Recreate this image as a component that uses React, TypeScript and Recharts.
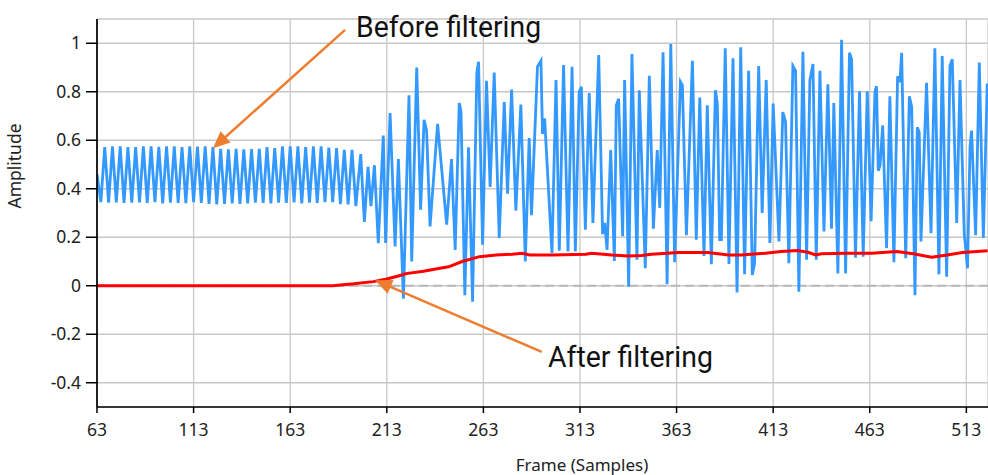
import React from 'react';
import { LineChart, Line, XAxis, YAxis, CartesianGrid, ReferenceLine, ReferenceDot } from 'recharts';

// Blue series: signal before filtering (frame, amplitude)
const blueFrames = [
  63, 65, 67, 69, 71, 73, 75, 77, 79, 81,
  83, 85, 87, 89, 91, 93, 95, 97, 99, 101,
  103, 105, 107, 109, 111, 113, 115, 117, 119, 121,
  123, 125, 127, 129, 131, 133, 135, 137, 139, 141,
  143, 145, 147, 149, 151, 153, 155, 157, 159, 161,
  163, 165, 167, 169, 171, 173, 175, 177, 179, 181,
  183, 185, 187, 189, 191, 193, 195, 197, 199.5, 201.4,
  203.3, 204.8, 206.6, 208.6, 211.2, 212.4, 214.7, 217.3, 219, 221.6,
  224.5, 225.9, 228.5, 230.5, 232.3, 233.6, 235.4, 239.3, 244, 246.5,
  248.4, 250.5, 251.4, 253.4, 255.3, 257.4, 259.6, 260.5, 262.6, 264.6,
  266.5, 268.6, 271.2, 273.8, 275.5, 277.6, 279.8, 282.4, 284.7, 286.7,
  287.9, 291, 292.8, 293.6, 294.7, 298.5, 300.6, 302.3, 304.5, 306.8,
  308.9, 310.6, 312.6, 313.7, 315.8, 317.8, 319.7, 322.7, 324.7, 325.8,
  327, 328.9, 330.8, 331.8, 333, 335.1, 336.1, 338.2, 339.9, 342.5,
  343.7, 346.8, 348.9, 351, 353, 354.3, 356, 358.1, 360, 362,
  365, 366, 368.1, 371.2, 373.2, 375, 377.2, 378.9, 381, 383.1,
  384.1, 385.3, 386.2, 388.2, 390.1, 392.2, 394.3, 396.2, 398.2, 400.3,
  402.2, 403.4, 405.5, 407.3, 409.4, 411.3, 413, 416, 418, 419.4,
  421.1, 423.2, 424.6, 426.3, 428.4, 430.3, 432, 433.6, 435.3, 437.2,
  439.3, 441.3, 443.2, 444.4, 446.5, 448.4, 450.5, 452.5, 453.6, 455.6,
  457.7, 459.6, 461.7, 463.7, 465.7, 466.5, 467.4, 468.3, 469.7, 471.7,
  473.4, 475.5, 477.4, 478.6, 479.5, 481.6, 483.5, 484.7, 486.4, 487.6,
  488.6, 489.5, 492.4, 494.7, 496.7, 498.8, 500.5, 502.8, 504.5, 505.7,
  508, 509.7, 511.9, 513.6, 514.9, 515.7, 517.8, 519.7, 521.8, 523.8,
];
const blueAmp = [
  0.46, 0.345, 0.572, 0.343, 0.575, 0.344, 0.575, 0.342, 0.572, 0.343,
  0.572, 0.344, 0.575, 0.342, 0.575, 0.345, 0.573, 0.34, 0.575, 0.343,
  0.575, 0.342, 0.572, 0.341, 0.575, 0.345, 0.574, 0.342, 0.575, 0.338,
  0.572, 0.335, 0.565, 0.338, 0.562, 0.34, 0.565, 0.338, 0.562, 0.34,
  0.563, 0.343, 0.565, 0.342, 0.572, 0.34, 0.568, 0.343, 0.575, 0.342,
  0.575, 0.344, 0.575, 0.34, 0.572, 0.343, 0.575, 0.342, 0.575, 0.345,
  0.57, 0.345, 0.568, 0.336, 0.56, 0.335, 0.56, 0.328, 0.543, 0.263,
  0.49, 0.328, 0.497, 0.176, 0.619, 0.176, 0.712, 0.162, 0.522, -0.053,
  0.785, 0.1, 0.9, 0.314, 0.684, 0.64, 0.245, 0.668, 0.252, 0.522,
  0.148, 0.753, 0.72, -0.039, 0.571, -0.066, 0.878, 0.924, 0.169, 0.845,
  0.407, 0.879, 0.197, 0.758, 0.38, 0.809, 0.31, 0.747, 0.1, 0.609,
  0.291, 0.903, 0.928, 0.626, 0.69, 0.135, 0.848, 0.144, 0.91, 0.141,
  0.903, 0.141, 0.8, 0.82, 0.231, 0.795, 0.259, 0.951, 0.213, 0.259,
  0.148, 0.56, 0.102, 0.744, 0.771, 0.204, 0.848, -0.004, 0.956, 0.107,
  0.806, 0.072, 0.866, 0.235, 0.56, 0.321, 0.963, 0.006, 0.997, 0.097,
  0.841, 0.827, 0.208, 0.928, 0.19, 0.776, 0.123, 0.744, 0.089, 0.806,
  0.751, 0.19, 0.19, 0.979, 0.09, 0.938, -0.028, 0.983, 0.048, 0.886,
  0.044, 0.093, 0.906, 0.3, 0.848, 0.176, 0.751, 0.183, 0.716, 0.675,
  0.093, 0.906, 0.886, -0.025, 0.965, 0.107, 0.848, 0.914, 0.107, 0.886,
  0.224, 0.831, 0.235, 0.753, 0.051, 1.014, 0.051, 0.961, 0.934, 0.116,
  0.802, 0.12, 0.802, 0.266, 0.8, 0.823, 0.474, 0.495, 0.661, 0.155,
  0.781, 0.097, 0.864, 0.84, 0.961, 0.114, 0.781, 0.737, -0.039, 0.654,
  0.633, 0.183, 0.837, 0.217, 0.979, 0.047, 0.947, 0.037, 0.906, 0.934,
  0.259, 0.848, 0.217, 0.072, 0.573, 0.64, 0.208, 0.92, 0.197, 0.834,
];

// Red series: signal after filtering
const redFrames = [
  63, 185, 189, 196, 206, 213, 219, 223, 232, 240.5,
  245, 252, 261, 269.5, 278, 283, 287, 299, 316, 319,
  329.5, 338, 345, 350, 364, 379, 390, 396.5, 409, 417,
  425.5, 431, 435, 438, 451, 464, 477, 485.5, 495, 503,
  511, 524,
];
const redAmp = [
  0, 0, 0.003, 0.008, 0.017, 0.028, 0.04, 0.05, 0.06, 0.072,
  0.078, 0.1, 0.12, 0.127, 0.13, 0.134, 0.127, 0.127, 0.13, 0.134,
  0.127, 0.123, 0.125, 0.13, 0.137, 0.137, 0.127, 0.127, 0.134, 0.141,
  0.145, 0.138, 0.127, 0.132, 0.134, 0.134, 0.141, 0.132, 0.118, 0.127,
  0.137, 0.144,
];

const xTicks = [63, 113, 163, 213, 263, 313, 363, 413, 463, 513];
const yTicks = [-0.4, -0.2, 0, 0.2, 0.4, 0.6, 0.8, 1];
const xDomain = [63, 524.2];
const yDomain = [-0.5, 1.1];

// Annotations (in data coordinates)
const beforeLabel = { text: 'Before filtering', x: 197.1, y: 1.024 };
const afterLabel = { text: 'After filtering', x: 296.4, y: -0.335 };
const beforeArrow = [{ x: 191.4, y: 1.055 }, { x: 123, y: 0.567 }];
const afterArrow = [{ x: 293.2, y: -0.273 }, { x: 206.9, y: 0.023 }];

const blueData = blueFrames.map((x, i) => ({ x, y: blueAmp[i] }));
const redData = redFrames.map((x, i) => ({ x, y: redAmp[i] }));

const ORANGE = '#ed7d31';
const FONT = "'Noto Sans', 'Open Sans', sans-serif";

const ArrowShape = (props: any) => {
  const { x1, y1, x2, y2 } = props;
  const dx = x2 - x1;
  const dy = y2 - y1;
  const len = Math.hypot(dx, dy) || 1;
  const ux = dx / len;
  const uy = dy / len;
  const hl = 17;
  const hw = 7.5;
  const bx = x2 - ux * hl;
  const by = y2 - uy * hl;
  const px = -uy;
  const py = ux;
  return (
    <g>
      <line x1={x1} y1={y1} x2={bx + ux * 2} y2={by + uy * 2} stroke={ORANGE} strokeWidth={2.5} />
      <polygon
        points={`${x2},${y2} ${bx + px * hw},${by + py * hw} ${bx - px * hw},${by - py * hw}`}
        fill={ORANGE}
      />
    </g>
  );
};

const makeTextShape = (text: string, len: number) => (props: any) => (
  <text
    x={props.cx}
    y={props.cy}
    fontFamily="Roboto, sans-serif"
    fontSize={30}
    fill="#111"
    textLength={len}
    lengthAdjust="spacingAndGlyphs"
  >
    {text}
  </text>
);

const fmtY = (v: number) => String(Math.round(v * 10) / 10);

export default function App() {
  return (
    <div style={{ position: 'fixed', left: 0, top: 0, width: 988, height: 475, overflow: 'hidden', background: '#fff' }}>
      <LineChart width={988} height={475} margin={{ top: 19, right: 0, bottom: 38, left: 0 }}>
        <CartesianGrid stroke="#c8c8c8" strokeWidth={1.3} />
        <ReferenceLine y={0} stroke="#b8b8b8" strokeWidth={2} strokeDasharray="9 5" />
        <XAxis
          type="number"
          dataKey="x"
          domain={xDomain}
          ticks={xTicks}
          allowDataOverflow
          height={30}
          tickSize={6}
          tickMargin={11}
          axisLine={{ stroke: '#000', strokeWidth: 1.7 }}
          tickLine={{ stroke: '#000', strokeWidth: 1.5 }}
          tick={{ fill: '#222', fontSize: 17.5, fontFamily: FONT }}
          label={() => (
            <text x={582} y={470.5} textAnchor="middle" fill="#222" fontSize={17} fontFamily={FONT}>
              Frame (Samples)
            </text>
          )}
        />
        <YAxis
          type="number"
          dataKey="y"
          domain={yDomain}
          ticks={yTicks}
          allowDataOverflow
          width={97}
          tickSize={11}
          tickMargin={5}
          tickFormatter={fmtY}
          axisLine={{ stroke: '#000', strokeWidth: 1.7 }}
          tickLine={{ stroke: '#000', strokeWidth: 1.5 }}
          tick={{ fill: '#222', fontSize: 17.5, fontFamily: FONT }}
          label={() => (
            <text
              x={20.7}
              y={166}
              textAnchor="middle"
              fill="#222"
              fontSize={17.5}
              fontFamily={FONT}
              transform="rotate(-90, 20.7, 166)"
            >
              Amplitude
            </text>
          )}
        />
        <Line
          data={blueData}
          dataKey="y"
          type="linear"
          stroke="#3399ff"
          strokeWidth={2.8}
          dot={false}
          isAnimationActive={false}
        />
        <Line
          data={redData}
          dataKey="y"
          type="linear"
          stroke="#ff0000"
          strokeWidth={3}
          dot={false}
          isAnimationActive={false}
        />
        <ReferenceLine segment={beforeArrow} shape={ArrowShape} ifOverflow="visible" />
        <ReferenceLine segment={afterArrow} shape={ArrowShape} ifOverflow="visible" />
        <ReferenceDot
          x={beforeLabel.x}
          y={beforeLabel.y}
          r={0}
          ifOverflow="visible"
          shape={makeTextShape(beforeLabel.text, 185)}
        />
        <ReferenceDot
          x={afterLabel.x}
          y={afterLabel.y}
          r={0}
          ifOverflow="visible"
          shape={makeTextShape(afterLabel.text, 165)}
        />
      </LineChart>
    </div>
  );
}
